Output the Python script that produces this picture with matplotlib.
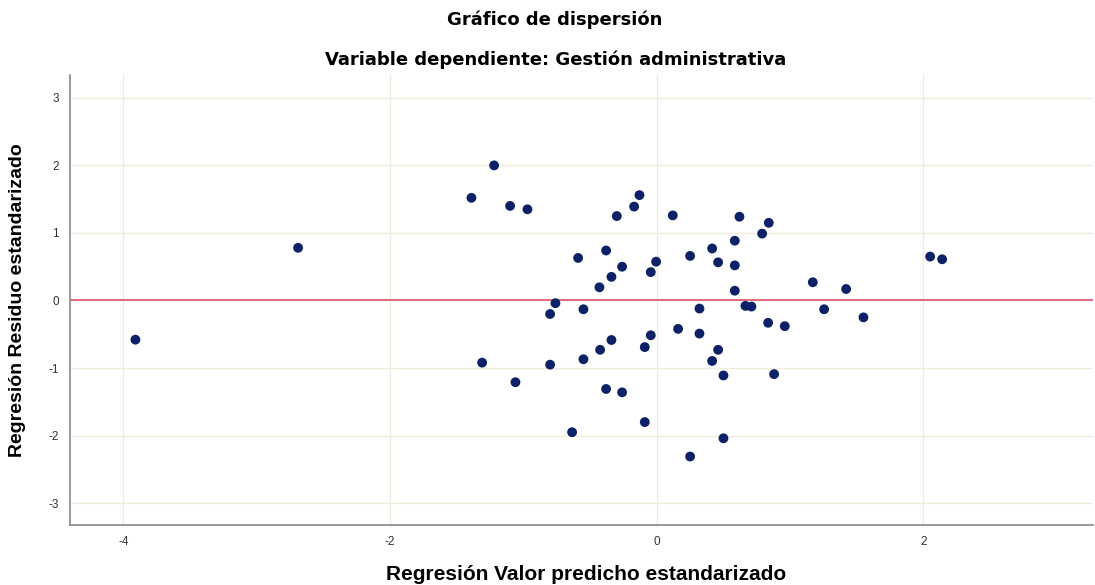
import matplotlib
matplotlib.use("Agg")
import matplotlib.pyplot as plt

plt.rcParams['font.family'] = ['Liberation Sans', 'DejaVu Sans']
plt.rcParams['axes.unicode_minus'] = False

# standardized predicted value (x) and standardized residual (y)
pred = [-3.91, -2.69, -1.39, -1.22, -1.10, -0.97, -1.31, -1.06, -0.80, -0.80,
        -0.76, -0.55, -0.59, -0.55, -0.635, -0.425, -0.34, -0.38, -0.34, -0.43,
        -0.26, -0.30, -0.38, -0.26, -0.17, -0.13, -0.045, -0.005, -0.045, -0.09,
        -0.09, 0.12, 0.16, 0.25, 0.25, 0.32, 0.32, 0.415, 0.46, 0.415,
        0.46, 0.50, 0.50, 0.62, 0.84, 0.79, 0.585, 0.585, 0.585, 0.665,
        0.71, 0.835, 0.96, 1.17, 1.42, 1.255, 1.55, 0.88, 2.05, 2.14]
resid = [-0.58, 0.78, 1.52, 2.00, 1.40, 1.35, -0.92, -1.21, -0.95, -0.20,
         -0.04, -0.13, 0.63, -0.87, -1.95, -0.73, -0.585, 0.74, 0.35, 0.195,
         0.50, 1.25, -1.31, -1.36, 1.39, 1.56, 0.42, 0.575, -0.515, -0.69,
         -1.80, 1.26, -0.42, 0.66, -2.31, -0.12, -0.49, 0.77, 0.565, -0.895,
         -0.73, -1.11, -2.04, 1.24, 1.15, 0.99, 0.885, 0.52, 0.145, -0.08,
         -0.09, -0.33, -0.38, 0.27, 0.17, -0.13, -0.25, -1.09, 0.65, 0.61]

x_ticks = [-4, -2, 0, 2]
y_ticks = [-3, -2, -1, 0, 1, 2, 3]

fig = plt.figure(figsize=(10.95, 5.85), dpi=100)
ax = fig.add_axes([0.064, 0.103, 0.934, 0.769])

ax.scatter(pred, resid, s=50, color='#0d2266', edgecolors='none', zorder=3)
ax.axhline(0, color='#e0506e', lw=1.2, zorder=2)

ax.set_xlim(-4.40, 3.27)
ax.set_ylim(-3.32, 3.34)
ax.set_xticks(x_ticks)
ax.set_yticks(y_ticks)
ax.grid(True, color='#f0ecdc', lw=1, zorder=0)
ax.tick_params(length=0, labelsize=8.5, colors='#333333', pad=8)

for s in ['top', 'right']:
    ax.spines[s].set_visible(False)
for s in ['left', 'bottom']:
    ax.spines[s].set_color('#888888')
    ax.spines[s].set_linewidth(1.2)

ax.set_xlabel('Regresión Valor predicho estandarizado', fontsize=15,
              fontweight='bold', va='center')
ax.xaxis.set_label_coords(0.505, -0.111)
ax.set_ylabel('Regresión Residuo estandarizado', fontsize=14,
              fontweight='bold', va='center')
ax.yaxis.set_label_coords(-0.051, 0.5)

fig.text(0.507, 1 - 20 / 585, 'Gráfico de dispersión', ha='center', va='center',
         fontsize=13, fontweight='bold', family='DejaVu Sans')
fig.text(0.507, 1 - 60 / 585, 'Variable dependiente: Gestión administrativa',
         ha='center', va='center', fontsize=13, fontweight='bold',
         family='DejaVu Sans')

fig.savefig('out.png', dpi=100)
